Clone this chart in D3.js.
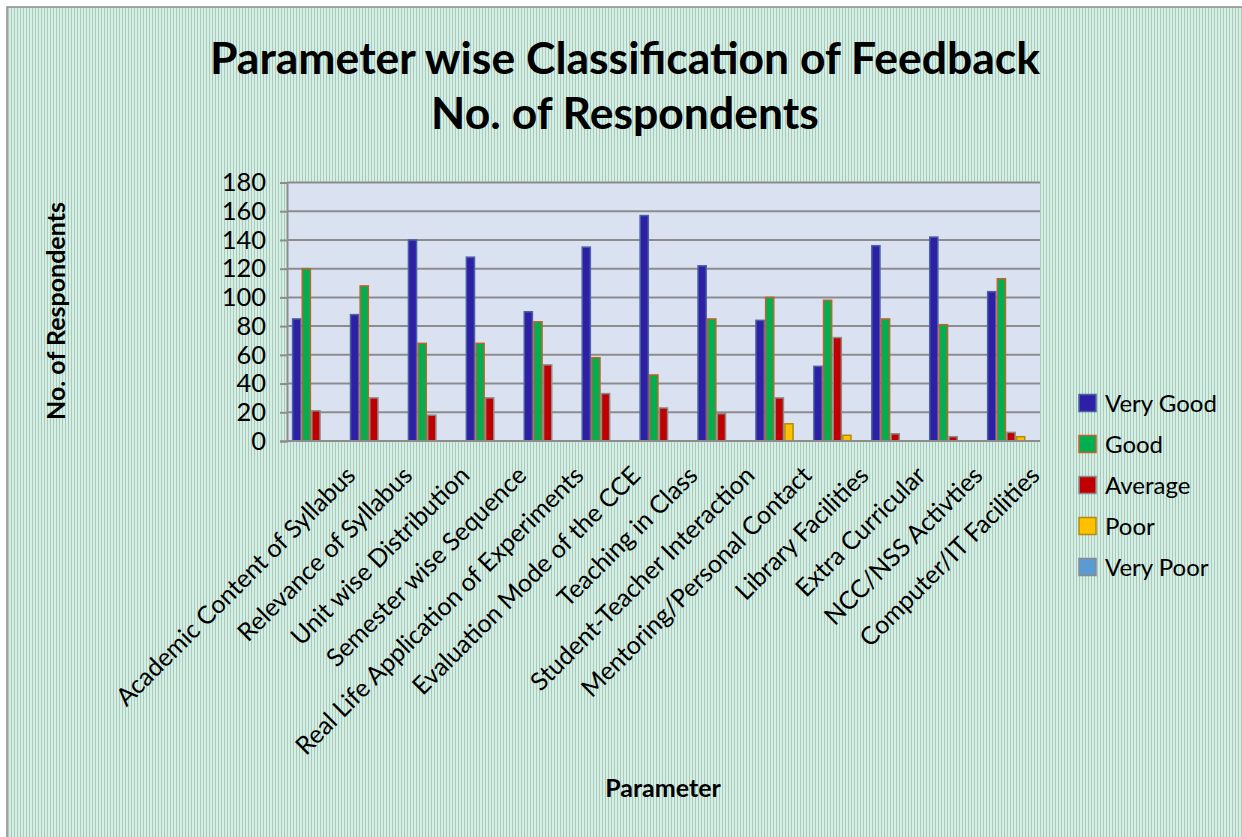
<!DOCTYPE html>
<html>
<head>
<meta charset="utf-8">
<script src="https://cdn.jsdelivr.net/npm/d3@7"></script>
<style>
  html, body { margin: 0; padding: 0; background: #ffffff; }
  svg { display: block; }
  text { font-family: Lato, "Open Sans", sans-serif; fill: #000; }
</style>
</head>
<body>
<svg id="chart" width="1242" height="837"></svg>
<script>
// Feedback parameters (x categories)
const categories = [
  "Academic Content of Syllabus",
  "Relevance of Syllabus",
  "Unit wise Distribution",
  "Semester wise Sequence",
  "Real Life Application of Experiments",
  "Evaluation Mode of the CCE",
  "Teaching in Class",
  "Student-Teacher Interaction",
  "Mentoring/Personal Contact",
  "Library Facilities",
  "Extra Curricular",
  "NCC/NSS Activties",
  "Computer/IT Facilities"
];

// Respondent counts per rating
const veryGood = [85, 88, 140, 128, 90, 135, 157, 122, 84, 52, 136, 142, 104];
const good     = [120, 108, 68, 68, 83, 58, 46, 85, 100, 98, 85, 81, 113];
const average  = [21, 30, 18, 30, 53, 33, 23, 19, 30, 72, 5, 3, 6];
const poor     = [0, 0, 0, 0, 0, 0, 0, 0, 12, 4, 0, 0, 3];
const veryPoor = [0, 0, 0, 0, 0, 0, 0, 0, 0, 0, 0, 0, 0];

const seriesNames = ["Very Good", "Good", "Average", "Poor", "Very Poor"];
const yTicks = [0, 20, 40, 60, 80, 100, 120, 140, 160, 180];

const seriesData = [veryGood, good, average, poor, veryPoor];
const fills   = ["#2e20a6", "#00b050", "#c00000", "#ffc000", "#5b9bd5"];
const strokes = ["#4a62a0", "#c0622a", "#8a8a8a", "#b08c10", "#8a8a8a"];

const svg = d3.select("#chart");
const W = 1242, H = 837;

// striped backdrop
const defs = svg.append("defs");
const pat = defs.append("pattern")
  .attr("id", "stripes").attr("patternUnits", "userSpaceOnUse")
  .attr("width", 3).attr("height", 10);
pat.append("rect").attr("width", 3).attr("height", 10).attr("fill", "#d0f1e3");
pat.append("rect").attr("x", 2).attr("width", 1).attr("height", 10).attr("fill", "#b2c5bc");

svg.append("rect").attr("x", 7).attr("y", 7).attr("width", W).attr("height", H)
  .attr("fill", "url(#stripes)").attr("stroke", "#8c8c8c").attr("stroke-width", 1.5);

const plot = { left: 287, right: 1040, top: 182.5, bottom: 441 };

const x0 = d3.scaleBand().domain(categories)
  .range([plot.left, plot.right]).paddingInner(0).paddingOuter(0);
const x1 = d3.scaleBand().domain(seriesNames)
  .range([0, x0.bandwidth()]).paddingInner(0).paddingOuter(0.5);
const y = d3.scaleLinear().domain([0, 180]).range([plot.bottom, plot.top]);

// plot background
svg.append("rect")
  .attr("x", plot.left).attr("y", plot.top)
  .attr("width", plot.right - plot.left).attr("height", plot.bottom - plot.top)
  .attr("fill", "#dae2f2");

// gridlines
svg.append("g").selectAll("line").data(yTicks.slice(1)).join("line")
  .attr("x1", plot.left).attr("x2", plot.right)
  .attr("y1", d => y(d)).attr("y2", d => y(d))
  .attr("stroke", "#8c8c8c").attr("stroke-width", 2);

// y axis
const yAxis = svg.append("g")
  .attr("transform", `translate(${plot.left},0)`)
  .call(d3.axisLeft(y).tickValues(yTicks).tickSize(7).tickPadding(14));
yAxis.select(".domain").attr("stroke", "#8c8c8c").attr("stroke-width", 2);
yAxis.selectAll(".tick line").attr("stroke", "#8c8c8c").attr("stroke-width", 2);
yAxis.selectAll(".tick text").attr("font-size", 25.5).attr("fill", "#000")
  .attr("font-family", "Lato, 'Open Sans', sans-serif");

// bars
const groups = svg.append("g").selectAll("g").data(categories).join("g")
  .attr("transform", d => `translate(${x0(d)},0)`);
groups.selectAll("rect")
  .data((c, i) => seriesNames.map((s, k) => ({ s, k, v: seriesData[k][i] })))
  .join("rect")
  .filter(d => d.v > 0)
  .attr("x", d => x1(d.s) + 0.75)
  .attr("width", x1.bandwidth() - 1.5)
  .attr("y", d => y(d.v))
  .attr("height", d => y(0) - y(d.v))
  .attr("fill", d => fills[d.k])
  .attr("stroke", d => strokes[d.k])
  .attr("stroke-width", 1.5);

// x axis line
svg.append("line")
  .attr("x1", plot.left).attr("x2", plot.right)
  .attr("y1", plot.bottom).attr("y2", plot.bottom)
  .attr("stroke", "#8c8c8c").attr("stroke-width", 2);

// rotated category labels
svg.append("g").selectAll("text").data(categories).join("text")
  .attr("transform", (d, i) => `translate(${x0(d) + x0.bandwidth() / 2 + 41 - i * 0.9},${plot.bottom + 36}) rotate(-45)`)
  .attr("text-anchor", "end")
  .attr("font-size", 25)
  .text(d => d);

// title
const title = svg.append("text")
  .attr("x", 625).attr("text-anchor", "middle")
  .attr("font-weight", "bold").attr("font-size", 44.5);
title.append("tspan").attr("x", 625).attr("y", 74).text("Parameter wise Classification of Feedback");
title.append("tspan").attr("x", 625).attr("y", 129).text("No. of Respondents");

// axis titles
svg.append("text")
  .attr("transform", "translate(65,311) rotate(-90)")
  .attr("text-anchor", "middle").attr("font-weight", "bold").attr("font-size", 25)
  .text("No. of Respondents");
svg.append("text")
  .attr("x", 663).attr("y", 797).attr("text-anchor", "middle")
  .attr("font-weight", "bold").attr("font-size", 25)
  .text("Parameter");

// legend
const legend = svg.append("g").selectAll("g").data(seriesNames).join("g")
  .attr("transform", (d, i) => `translate(1079,${403 + i * 41})`);
legend.append("rect")
  .attr("x", 0).attr("y", -8.5).attr("width", 17).attr("height", 17)
  .attr("fill", (d, i) => fills[i]).attr("stroke", (d, i) => strokes[i]).attr("stroke-width", 1.5);
legend.append("text")
  .attr("x", 26).attr("y", 9).attr("font-size", 24)
  .text(d => d);
</script>
</body>
</html>
